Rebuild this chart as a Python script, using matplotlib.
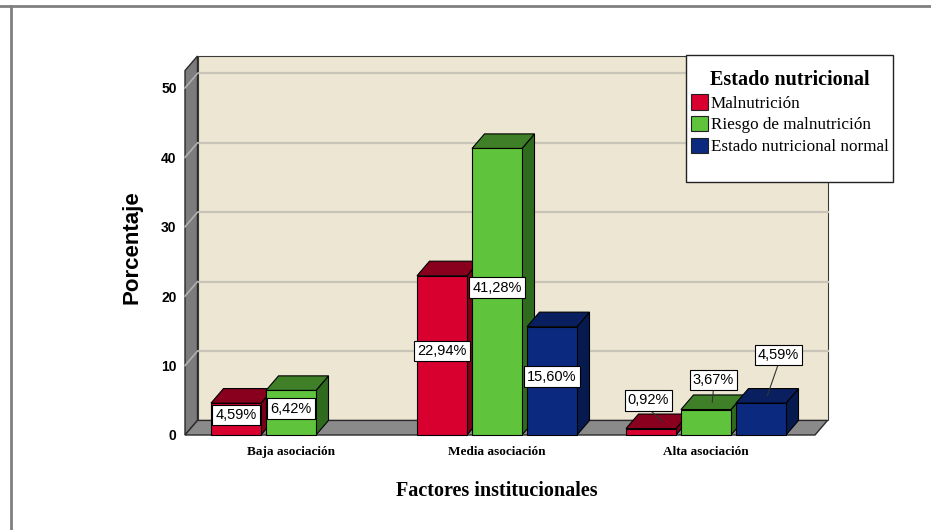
import matplotlib.pyplot as plt
from matplotlib.patches import Polygon, Rectangle
from matplotlib.lines import Line2D

# ------------------------------------------------------------------
# Datos (porcentajes sobre el total)
# ------------------------------------------------------------------
categorias = ["Baja asociación", "Media asociación", "Alta asociación"]
series = ["Malnutrición", "Riesgo de malnutrición", "Estado nutricional normal"]
malnutricion = [4.59, 22.94, 0.92]
riesgo = [6.42, 41.28, 3.67]
normal = [0.0, 15.60, 4.59]
yticks = [0, 10, 20, 30, 40, 50]

valores = [malnutricion, riesgo, normal]

# colores: frente, techo, lateral
col_frente = ["#d7002f", "#5fc33b", "#0b2a7f"]
col_techo = ["#88001e", "#3f7f27", "#0a1f5f"]
col_lado = ["#7a001a", "#2f6b1d", "#061a4f"]

SERIF = "Liberation Serif"
SANS = "Liberation Sans"

# geometria (x en "anchos de barra", y en porcentaje)
XMAX, YMAX = 12.6, 52.5
DX, DY = 0.25, 2.1
centros = [2.12, 6.24, 10.42]
paso = 1.1

fig = plt.figure(figsize=(9.31, 5.30), dpi=100)
W, H = 931, 530
ax = fig.add_axes([185 / W, (H - 435) / H, 630 / W, 364.4 / H])
ax.set_xlim(0, XMAX)
ax.set_ylim(0, YMAX)
for s in ax.spines.values():
    s.set_visible(False)
ax.patch.set_alpha(0)

# paredes y suelo
ax.add_patch(Polygon([(DX, DY), (XMAX + DX, DY), (XMAX + DX, YMAX + DY), (DX, YMAX + DY)],
                     closed=True, fc="#ece6d2", ec="#3a3a3a", lw=0.8, clip_on=False, zorder=0))
ax.add_patch(Polygon([(0, 0), (DX, DY), (DX, YMAX + DY), (0, YMAX)],
                     closed=True, fc="#7c7c7c", ec="#2a2a2a", lw=1.0, clip_on=False, zorder=1))
ax.add_patch(Polygon([(0, 0), (XMAX, 0), (XMAX + DX, DY), (DX, DY)],
                     closed=True, fc="#8a8a8a", ec="#2a2a2a", lw=1.0, clip_on=False, zorder=1))
for t in yticks[1:]:
    ax.plot([DX, XMAX + DX], [t + DY, t + DY], color="#c9c4b8", lw=1.6, zorder=0.5, clip_on=False)
    ax.plot([0, DX], [t, t + DY], color="#b0b0b0", lw=1.2, zorder=1.5, clip_on=False)

# barras 3D
z = 2
for i, c in enumerate(centros):
    for j in range(3):
        v = valores[j][i]
        if v <= 0:
            continue
        x0 = c + (j - 1) * paso - 0.5
        ax.add_patch(Polygon([(x0 + 1, 0), (x0 + 1 + DX, DY), (x0 + 1 + DX, v + DY), (x0 + 1, v)],
                             closed=True, fc=col_lado[j], ec="black", lw=0.8, zorder=z, clip_on=False))
        ax.add_patch(Polygon([(x0, v), (x0 + 1, v), (x0 + 1 + DX, v + DY), (x0 + DX, v + DY)],
                             closed=True, fc=col_techo[j], ec="black", lw=0.8, zorder=z, clip_on=False))
        ax.add_patch(Rectangle((x0, 0), 1, v, fc=col_frente[j], ec="black", lw=0.8, zorder=z + 0.5,
                               clip_on=False))
        z += 1

# etiquetas de valor
caja = dict(boxstyle="square,pad=0.22", fc="white", ec="black", lw=0.8)
# etiquetas fuera de la barra (Alta asociacion): desplazamiento x, altura y
fuera = {(2, 0): (-0.05, 5.0), (2, 1): (0.15, 7.9), (2, 2): (0.35, 11.5)}
for i, c in enumerate(centros):
    for j in range(3):
        v = valores[j][i]
        if v <= 0:
            continue
        xc = c + (j - 1) * paso
        txt = f"{v:.2f}%".replace(".", ",")
        if (i, j) in fuera:
            dx, yl = fuera[(i, j)]
            ax.plot([xc + dx, xc + DX / 2 + (0.0 if j else 0.1)], [yl - 1.2, v + DY / 2],
                    color="#333333", lw=0.8, zorder=30)
            ax.text(xc + dx, yl, txt, ha="center", va="center", fontsize=10.5, family=SANS,
                    bbox=caja, zorder=40)
        else:
            ax.text(xc, v / 2 + 0.6, txt, ha="center", va="center", fontsize=10.5, family=SANS,
                    bbox=caja, zorder=40)

# ejes
ax.set_yticks(yticks)
ax.set_yticklabels([str(t) for t in yticks], fontsize=10, fontweight="bold", family=SANS)
ax.set_xticks(centros)
ax.set_xticklabels(categorias, fontsize=9.5, fontweight="bold", family=SERIF)
ax.tick_params(axis="both", length=0)
ax.tick_params(axis="y", pad=6)
ax.tick_params(axis="x", pad=8)
ax.set_ylabel("Porcentaje", fontsize=16, fontweight="bold", family=SANS)
ax.yaxis.set_label_coords(-0.068, 0.515)
ax.set_xlabel("Factores institucionales", fontsize=14.5, fontweight="bold", family=SERIF)
ax.xaxis.set_label_coords(0.495, -0.125)

# leyenda
fig.patches.append(Rectangle((686 / W, (H - 182) / H), 207 / W, 127 / H, transform=fig.transFigure,
                             fc="white", ec="#222222", lw=1.0, zorder=50))
handles = [Rectangle((0, 0), 1, 1, fc=col_frente[j], ec="#222222", lw=0.8) for j in range(3)]
leg = fig.legend(handles, series, loc="upper left", bbox_to_anchor=(679 / W, (H - 58) / H),
                 frameon=False, prop=dict(family=SERIF, size=12.3), title="Estado nutricional",
                 title_fontproperties=dict(family=SERIF, size=14.5, weight="bold"),
                 handlelength=1.0, handleheight=1.0, handletextpad=0.15, labelspacing=0.25,
                 borderpad=0.2)
leg.set_zorder(60)

# marco exterior
fig.add_artist(Line2D([0, 1], [(H - 6) / H] * 2, transform=fig.transFigure, color="#808080", lw=2))
fig.add_artist(Line2D([11 / W] * 2, [0, (H - 6) / H], transform=fig.transFigure, color="#808080", lw=2))

fig.savefig("out.png", dpi=100)
